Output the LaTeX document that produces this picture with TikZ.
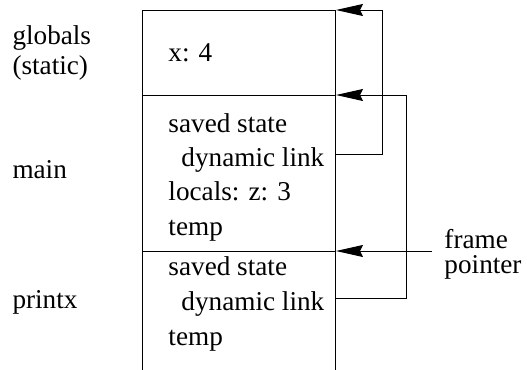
\documentclass[tikz,border=0pt]{standalone}
\usepackage{fontspec}
\setmainfont{Liberation Serif}
\usetikzlibrary{arrows.meta}

\tikzset{
    lbl/.style={anchor=base west, inner sep=0pt, font=\fontsize{13.6}{16}\selectfont},
    ptr/.style={-{Stealth[length=13.5pt,width=6pt,inset=1.5pt]}},
}

\begin{document}
\begin{tikzpicture}[x=0.5pt, y=-0.5pt, line width=0.5pt]
        \useasboundingbox (0,0) rectangle (527,370);
        % the stack, open at the bottom
        \draw (143,370) -- (143,10) -- (336,10) -- (336,370);
        \draw (143,95) -- (336,95);
        \draw (143,251) -- (336,251);
        \coordinate (stacktop) at (336,10);
        \coordinate (mainframe) at (336,95);
        \coordinate (printxframe) at (336,251);
        \coordinate (mainlink) at (336,154);
        \coordinate (printxlink) at (336,298);
        \coordinate (fpstart) at (432,251);
        % frame names
        \node[lbl] (globals) at (12,44) {globals};
        \node[lbl] (static) at (12,74) {(static)};
        \node[lbl] (main) at (12,178) {main};
        \node[lbl] (printx) at (12,308) {printx};
        % contents
        \node[lbl] (x) at (168,61) {x: 4};
        \node[lbl] (saved1) at (168,132) {saved state};
        \node[lbl] (dyn1) at (181,166) {dynamic link};
        \node[lbl] (locals) at (168,200) {locals: z: 3};
        \node[lbl] (temp1) at (168,235) {temp};
        \node[lbl] (saved2) at (168,275) {saved state};
        \node[lbl] (dyn2) at (181,310) {dynamic link};
        \node[lbl] (temp2) at (168,345) {temp};
        \node[lbl] (frame) at (444,248) {frame};
        \node[lbl] (pointer) at (444,273) {pointer};
        % links
        \draw[ptr] (mainlink) -- ++(47,0) |- (stacktop);
        \draw[ptr] (printxlink) -- ++(71,0) |- (mainframe);
        \draw[ptr] (fpstart) -- (printxframe);
    \end{tikzpicture}
\end{document}
